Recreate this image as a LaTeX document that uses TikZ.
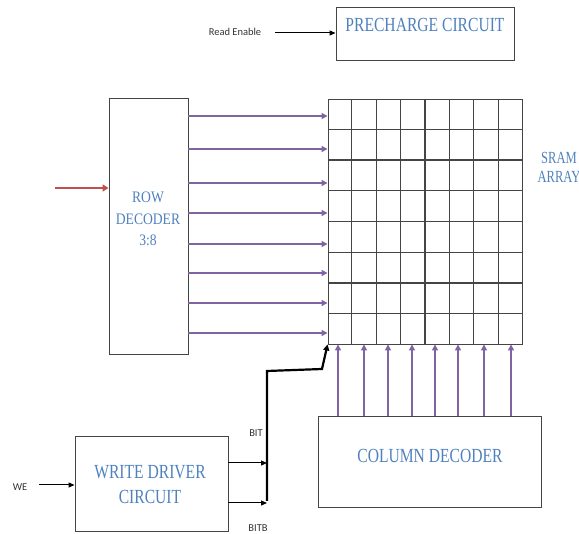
\documentclass[tikz,border=0pt]{standalone}
\usepackage{fontspec}
\setmainfont{Liberation Serif}
\newfontfamily\labfont{Carlito}
\usetikzlibrary{arrows.meta,positioning,calc}
\definecolor{txtblue}{HTML}{4F81BD}
\definecolor{wline}{HTML}{8064A2}
\definecolor{addr}{HTML}{C0504D}
\definecolor{edge}{HTML}{454545}
\newcommand{\narrow}[2][0.78]{\scalebox{#1}[1]{#2}}

\begin{document}
\begin{tikzpicture}[x=1pt, y=-1pt,
  box/.style={draw=edge, line width=0.9pt, inner sep=0pt},
  ttl/.style={font=\fontsize{20}{25}\selectfont, text=txtblue, align=center},
  lab/.style={font=\labfont\fontsize{10.5}{12}\selectfont, text=black!80, inner sep=1pt},
  gridline/.style={draw=edge, line width=1.1pt},
  wl/.style={wline, line width=2pt, -{Triangle[length=6pt,width=6pt]}},
  arr/.style={black, line width=1pt, -{Triangle[length=6pt,width=5pt]}}
]
\useasboundingbox (0,0) rectangle (579,534);
% blocks
\node[box, minimum width=178pt, minimum height=53pt] (pre) at (425,33.5) {};
\node[ttl] (pretxt) at (425,25) {\narrow{PRECHARGE CIRCUIT}};
\node[box, minimum width=79pt, minimum height=256pt] (rowdec) at (148.5,226) {};
\node[font=\fontsize{16}{21.5}\selectfont, text=txtblue, align=center] (rowtxt) at (148,219) {\narrow[0.85]{ROW}\\\narrow[0.85]{DECODER}\\\narrow[0.85]{3:8}};
\node[box, minimum width=194pt, minimum height=245pt] (array) at (425,221.5) {};
\node[font=\fontsize{17}{19}\selectfont, text=txtblue, align=center] (arrtxt) at (559,167) {\narrow[0.74]{SRAM}\\\narrow[0.74]{ARRAY}};
\node[box, minimum width=223pt, minimum height=91pt] (coldec) at (429.5,461.5) {};
\node[ttl] (coltxt) at (430,456) {\narrow{COLUMN DECODER}};
\node[box, minimum width=153pt, minimum height=95pt] (wd) at (151.5,483.5) {};
\node[ttl] (wdtxt) at (150,485) {\narrow{WRITE DRIVER}\\\narrow{CIRCUIT}};
% array cells
\foreach \i in {1,...,7} {
  \draw[gridline] ($(array.north west)!\i/8!(array.north east)$) -- ($(array.south west)!\i/8!(array.south east)$);
  \draw[gridline] ($(array.north west)!\i/8!(array.south west)$) -- ($(array.north east)!\i/8!(array.south east)$);
}
% word lines
\foreach \y in {116,149,183,213,244,273,303,333} {
  \draw[wl] (rowdec.east |- 0,\y) -- (array.west |- 0,\y);
}
% bit lines
\foreach \x in {338,364,388,412,435,458,484,511} {
  \draw[wl] (coldec.north -| \x,0) -- (array.south -| \x,0);
}
% address input
\coordinate (ain) at (55,188);
\draw[addr, line width=2.4pt, -{Triangle[length=6pt,width=7pt]}] (ain) -- (rowdec.west |- ain);
% read enable
\node[lab] (re) at (235,32) {Read Enable};
\coordinate (rein) at (275,33);
\draw[arr] (rein) -- (pre.west |- rein);
% write driver
\node[lab] (we) at (20,487) {WE};
\coordinate (wein) at (39,485);
\draw[arr] (wein) -- (wd.west |- wein);
\coordinate (bitin) at (267,463);
\coordinate (bitbin) at (267,503);
\draw[arr] (wd.east |- bitin) -- (bitin);
\draw[arr] (wd.east |- bitbin) -- (bitbin);
\node[lab] (bit) at (256,433) {BIT};
\node[lab] (bitb) at (258,528) {BITB};
\draw[black, line width=2.2pt, -{Triangle[length=6pt,width=6pt]}] ([yshift=2pt]bitbin) -- (267,371) -- (322,369) -- (array.south west);
\end{tikzpicture}
\end{document}
